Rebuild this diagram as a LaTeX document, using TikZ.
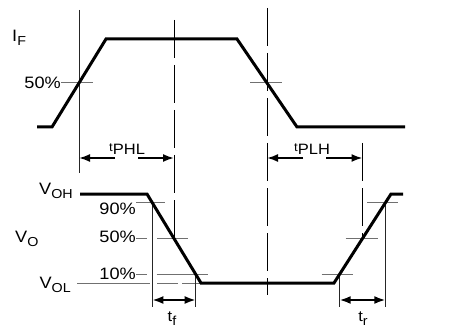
\documentclass[tikz,border=0pt]{standalone}
\usepackage{fontspec}
\setmainfont{Liberation Sans}
\usetikzlibrary{arrows.meta,calc}
\definecolor{TickGray}{HTML}{707070}
\newcommand{\lowsub}[1]{\raisebox{-4.5pt}{\fontsize{13}{13}\selectfont #1}}
\newcommand{\hight}{\raisebox{2.5pt}{\fontsize{12}{12}\selectfont t}}

\begin{document}
\begin{tikzpicture}[x=1pt,y=-1pt,
    wave/.style={line width=3pt},
    guide/.style={line width=0.9pt,dash pattern=on 38pt off 7pt},
    thinline/.style={black!85,line width=0.9pt},
    tick/.style={TickGray,line width=1pt},
    dimarrow/.style={line width=1.8pt,-{Latex[length=11pt,width=8pt]}},
    twoarrow/.style={line width=1.8pt,{Latex[length=11pt,width=8pt]}-{Latex[length=11pt,width=8pt]}},
    lbl/.style={font=\fontsize{16.5}{16.5}\selectfont,inner sep=0pt,xscale=1.1,transform shape},
    small/.style={font=\fontsize{15}{15}\selectfont}]
  \useasboundingbox (0,0) rectangle (472,329);

  % input current
  \coordinate (i0) at (37,127);
  \coordinate (i1) at (52,127);
  \coordinate (i2) at (106,39);
  \coordinate (i3) at (237,39);
  \coordinate (i4) at (297,127);
  \coordinate (i5) at (405,127);
  \coordinate (iup) at ($(i1)!0.5!(i2)$);
  \coordinate (idn) at ($(i3)!0.5!(i4)$);

  % output voltage
  \coordinate (v0) at (80,194);
  \coordinate (v1) at (147,194);
  \coordinate (v2) at (201,283);
  \coordinate (v3) at (334,283);
  \coordinate (v4) at (391,194);
  \coordinate (v5) at (403,194);
  \foreach \p/\f in {90/0.1,50/0.5,10/0.9} {
    \coordinate (fall\p) at ($(v1)!\f!(v2)$);
    \coordinate (rise\p) at ($(v4)!\f!(v3)$);
  }

  % labels
  \node[lbl,anchor=west] (iflbl) at (12,38) {I\lowsub{F}};
  \node[lbl,anchor=east] (pctin) at (61,83) {50\%};
  \node[lbl,anchor=east] (vohlbl) at (73,191) {V\lowsub{OH}};
  \node[lbl,anchor=west] (volbl) at (15,239) {V\lowsub{O}};
  \node[lbl,anchor=east] (vollbl) at (71,285) {V\lowsub{OL}};
  \node[lbl,anchor=east] (pct90) at (136,209) {90\%};
  \node[lbl,anchor=east] (pct50) at (136,237) {50\%};
  \node[lbl,anchor=east] (pct10) at (136,274) {10\%};
  \node[lbl,small,anchor=base west] (tphl) at (109,154) {\hight PHL};
  \node[lbl,small,anchor=base west] (tplh) at (294,154) {\hight PLH};
  \node[lbl,small,anchor=base] (tflbl) at (172,321) {t\lowsub{f}};
  \node[lbl,small,anchor=base] (trlbl) at (363,321) {t\lowsub{r}};

  % guide lines
  \draw[thinline] (iup |- 0,10) -- (iup |- 0,173);
  \draw[guide] (fall50 |- 0,20) -- (fall50);
  \draw[guide] (idn |- 0,8) -- (idn |- 0,295);
  \draw[guide] (rise50 |- 0,143) -- (rise50);

  % level ticks
  \draw[tick] (pctin.east |- iup) -- ++(32,0);
  \draw[tick] ($(idn)+(-17,0)$) -- ++(32,0);
  \draw[tick] (pct90.east |- fall90) -- ($(fall90)+(13,0)$);
  \draw[tick] (pct50.east |- fall50) -- ++(11,0);
  \draw[tick] ($(fall50)+(-17,0)$) -- ++(31,0);
  \draw[tick] (pct10.east |- fall10) -- ++(11,0);
  \draw[tick] ($(fall10)+(-39,0)$) -- ++(51,0);
  \draw[tick] ($(rise10)+(-18,0)$) -- ++(31,0);
  \draw[tick] ($(rise50)+(-17,0)$) -- ++(32,0);
  \draw[tick] ($(rise90)+(-18,0)$) -- ++(31,0);
  \draw[tick] ($(vollbl.east |- v2)+(6,0)$) -- ($(fall90 |- v2)+(-2,0)$);
  \draw[tick,dash pattern=on 21pt off 4pt] ($(fall90 |- v2)+(5,0)$) -- (v2);

  % propagation delays
  \coordinate (phlL) at (115,158);
  \coordinate (phlR) at (138,158);
  \coordinate (plhL) at (303,158);
  \coordinate (plhR) at (326,158);
  \draw[dimarrow] (phlL) -- (iup |- phlL);
  \draw[dimarrow] (phlR) -- (fall50 |- phlR);
  \draw[dimarrow] (plhL) -- (idn |- plhL);
  \draw[dimarrow] (plhR) -- (rise50 |- plhR);

  % fall and rise times
  \foreach \c in {fall90,fall10,rise10,rise90}
    \draw[thinline] (\c) -- (\c |- 0,307);
  \draw[twoarrow] (fall90 |- 0,300) -- (fall10 |- 0,300);
  \draw[twoarrow] (rise10 |- 0,300) -- (rise90 |- 0,300);

  % waveforms
  \draw[wave] (i0) -- (i1) -- (i2) -- (i3) -- (i4) -- (i5);
  \draw[wave] (v0) -- (v1) -- (v2) -- (v3) -- (v4) -- (v5);
\end{tikzpicture}
\end{document}
